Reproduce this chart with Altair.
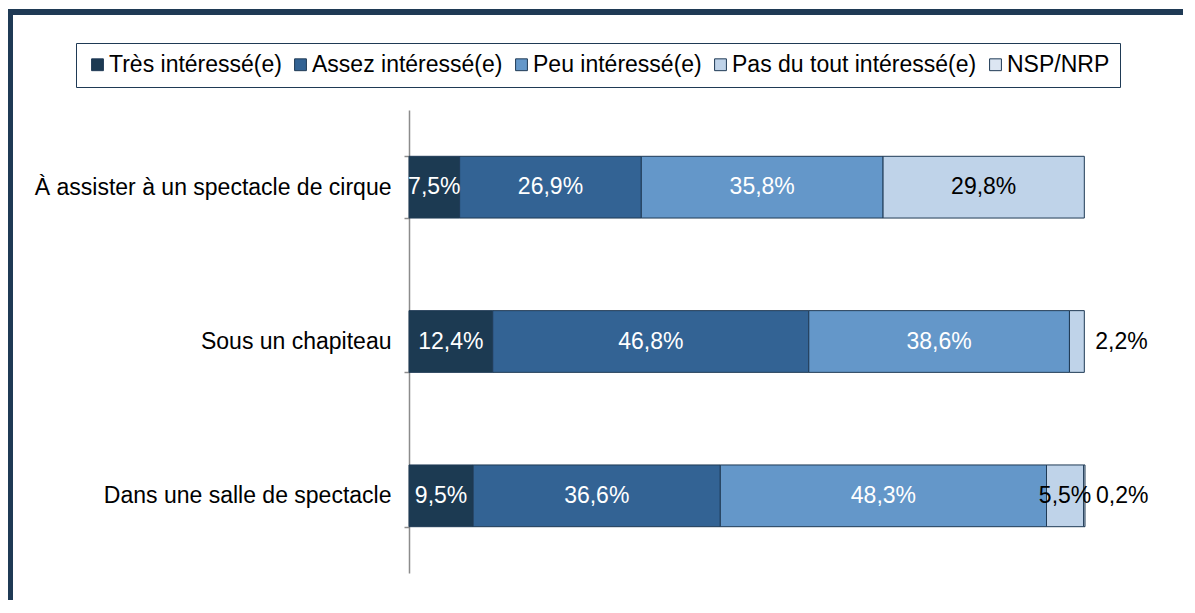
import altair as alt
import pandas as pd

categories = ["À assister à un spectacle de cirque", "Sous un chapiteau", "Dans une salle de spectacle"]
series = ["Très intéressé(e)", "Assez intéressé(e)", "Peu intéressé(e)", "Pas du tout intéressé(e)", "NSP/NRP"]
colors = ["#1c3a52", "#336394", "#6497c9", "#bfd3e9", "#dce6f2"]

cirque = [7.5, 26.9, 35.8, 29.8, 0.0]
chapiteau = [12.4, 46.8, 38.6, 2.2, 0.0]
salle = [9.5, 36.6, 48.3, 5.5, 0.2]

rows = []
for c, vals in zip(categories, [cirque, chapiteau, salle]):
    for i, (s, v) in enumerate(zip(series, vals)):
        rows.append({"cat": c, "serie": s, "idx": i, "value": v})
df = pd.DataFrame(rows)

FONT = "Liberation Sans"
NAVY = "#1f3a55"

xscale = alt.Scale(domain=[0, 100.1], nice=False, zero=False)
yenc = alt.Y(
    "cat:N",
    sort=categories,
    scale=alt.Scale(paddingInner=0.6, paddingOuter=0.3),
    axis=alt.Axis(
        title=None,
        labelFontSize=23,
        labelFont=FONT,
        labelColor="black",
        labelLimit=500,
        labelPadding=13,
        domainColor="#8c8c8c",
        domainWidth=1.5,
        tickColor="#8c8c8c",
        tickWidth=1.5,
        tickSize=5,
        tickBand="extent",
    ),
)

base = (
    alt.Chart(df)
    .transform_filter("datum.value > 0")
    .transform_window(
        cum="sum(value)",
        groupby=["cat"],
        sort=[alt.SortField("idx")],
        frame=[None, 0],
    )
    .transform_calculate(
        start="datum.cum - datum.value",
        mid="datum.cum - datum.value / 2",
        lab="replace(format(datum.value, '.1f'), '.', ',') + '%'",
    )
)

bars = base.mark_bar(stroke=NAVY, strokeWidth=1).encode(
    x=alt.X("start:Q", scale=xscale, axis=None),
    x2="cum:Q",
    y=yenc,
    color=alt.Color(
        "serie:N",
        scale=alt.Scale(domain=series, range=colors),
        legend=alt.Legend(
            title=None,
            orient="none",
            legendX=-333,
            legendY=-67,
            direction="horizontal",
            columns=5,
            symbolType="square",
            symbolSize=140,
            symbolStrokeColor=NAVY,
            symbolStrokeWidth=1,
            labelFontSize=23,
            labelFont=FONT,
            labelColor="black",
            labelLimit=1000,
            labelOffset=0,
            columnPadding=7,
            padding=10,
            strokeColor=NAVY,
        ),
    ),
    order=alt.Order("idx:Q"),
)

inside = base.transform_filter("datum.value >= 3").mark_text(
    fontSize=23, font=FONT, align="center", baseline="middle"
).encode(
    x=alt.X("mid:Q", scale=xscale, axis=None),
    y=alt.Y("cat:N", sort=categories),
    text="lab:N",
    color=alt.condition("datum.idx < 3", alt.value("white"), alt.value("black")),
)

outside = base.transform_filter("datum.value < 3").mark_text(
    fontSize=23, font=FONT, align="left", baseline="middle", dx=11
).encode(
    x=alt.X("cum:Q", scale=xscale, axis=None),
    y=alt.Y("cat:N", sort=categories),
    text="lab:N",
    color=alt.value("black"),
)

frame_df = pd.DataFrame({"k": [0]})
frame_top = alt.Chart(frame_df).mark_rect(color=NAVY).encode(
    x=alt.value(-402), x2=alt.value(900), y=alt.value(-101), y2=alt.value(-95)
)
frame_left = alt.Chart(frame_df).mark_rect(color=NAVY).encode(
    x=alt.value(-402), x2=alt.value(-396), y=alt.value(-101), y2=alt.value(600)
)

chart = (
    alt.layer(frame_top, frame_left, bars, inside, outside)
    .properties(
        width=676,
        height=463,
        autosize=alt.AutoSizeParams(type="none"),
        padding={"left": 401, "top": 102, "right": 98, "bottom": 27},
    )
    .configure(font=FONT, background="white")
    .configure_view(stroke="transparent", strokeWidth=0)
)

chart.save("out.html", embed_options={"renderer": "svg", "actions": False})
